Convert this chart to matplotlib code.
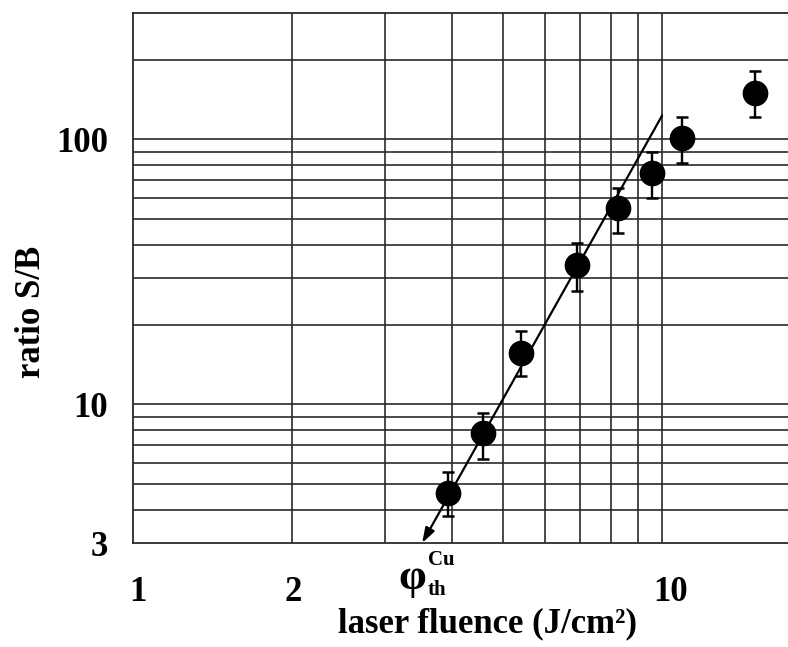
import matplotlib.pyplot as plt
import matplotlib.transforms as mtransforms

# data
fluence = [3.94, 4.59, 5.41, 6.91, 8.26, 9.58, 10.9, 15.0]
ratio = [4.65, 7.78, 15.7, 33.7, 54.9, 74.4, 101, 150]
err_hi = [5.58, 9.25, 19.0, 40.5, 65.3, 89.3, 121, 182]
err_lo = [3.78, 6.25, 12.8, 26.9, 44.2, 59.9, 81.2, 121]

# fit line, from upper end down to threshold
fit_top = (10.0, 123)
fit_threshold = (3.52, 3.0)

x_grid = [2, 3, 4, 5, 6, 7, 8, 9, 10]
y_grid = [4, 5, 6, 7, 8, 9, 10, 20, 30, 40, 50, 60, 70, 80, 90, 100, 200]
x_ticks = [1, 2, 10]
x_ticklabels = ["1", "2", "10"]
y_ticks = [3, 10, 100]
y_ticklabels = ["3", "10", "100"]

plt.rcParams['font.family'] = ['Liberation Serif', 'DejaVu Serif']
plt.rcParams['font.weight'] = 'bold'

fig = plt.figure(figsize=(7.88, 6.47), dpi=100)
ax = fig.add_axes([133 / 788, 104 / 647, 655 / 788, 530 / 647])
ax.set_xscale('log')
ax.set_yscale('log')
ax.set_xlim(1, 17.3)
ax.set_ylim(3, 300)

gc = '#2a2a2a'
for xv in x_grid:
    ax.axvline(xv, color=gc, lw=1.2, zorder=1)
for yv in y_grid:
    ax.axhline(yv, color=gc, lw=1.2, zorder=1)

for side in ['left', 'top', 'bottom']:
    ax.spines[side].set_color(gc)
    ax.spines[side].set_linewidth(1.3)
ax.spines['right'].set_visible(False)

lo = [r - l for r, l in zip(ratio, err_lo)]
hi = [h - r for r, h in zip(ratio, err_hi)]
ax.errorbar(fluence, ratio, yerr=[lo, hi], fmt='o', color='black',
            markersize=17.5, elinewidth=1.7, capsize=4.5, capthick=1.8, zorder=4)

ax.annotate('', xy=fit_threshold, xytext=fit_top,
            arrowprops=dict(arrowstyle='-|>,head_length=0.9,head_width=0.3',
                            color='black', lw=1.6, shrinkA=0, shrinkB=0),
            annotation_clip=False, zorder=3)

ax.minorticks_off()
ax.set_xticks(x_ticks)
ax.set_xticklabels(x_ticklabels)
ax.set_yticks(y_ticks)
ax.set_yticklabels(y_ticklabels)
ax.tick_params(length=0, labelsize=25, pad=24)
ax.tick_params(axis='y', pad=18)
for lab in ax.get_xticklabels() + ax.get_yticklabels():
    lab.set_fontweight('bold')

# nudge x tick labels a little to the right, as in the original
for lab, dx in zip(ax.get_xticklabels(), [5, 1, 9]):
    off = mtransforms.ScaledTranslation(dx / 100, 0, fig.dpi_scale_trans)
    lab.set_transform(lab.get_transform() + off)

# threshold label
fig.text(412 / 788, 1 - 578 / 647, 'φ', fontsize=32, ha='center', va='center')
fig.text(428 / 788, 1 - 560 / 647, 'Cu', fontsize=15, ha='left', va='center',
         fontweight='bold')
fig.text(428 / 788, 1 - 590 / 647, 'th', fontsize=15, ha='left', va='center',
         fontweight='bold')

fig.text(487 / 788, 1 - 624 / 647, 'laser fluence (J/cm²)',
         fontsize=25, fontweight='bold', ha='center', va='center')
fig.text(32 / 788, 1 - 312 / 647, 'ratio S/B', fontsize=25, fontweight='bold',
         rotation=90, ha='center', va='center')

plt.savefig('out.png', dpi=100)
